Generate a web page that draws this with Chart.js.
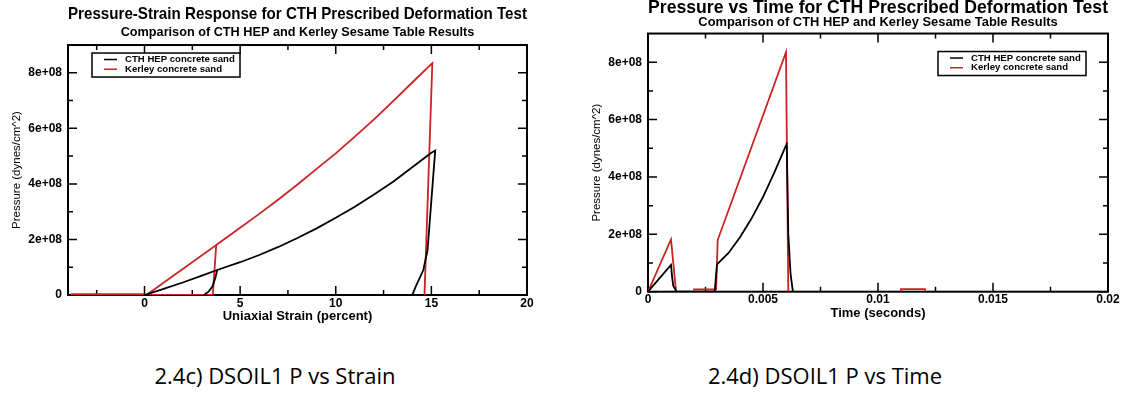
<!DOCTYPE html>
<html>
<head>
<meta charset="utf-8">
<script src="https://cdn.jsdelivr.net/npm/chart.js@4.4.1/dist/chart.umd.min.js"></script>
<style>
  html, body { margin: 0; padding: 0; background: #fff; overflow: hidden; }
  body { width: 1136px; height: 402px; position: relative; }
  canvas { position: absolute; }
  #strainChart { left: 0; top: 0; }
  #timeChart { left: 570px; top: -8px; }
  .caption {
    position: absolute; top: 360px; width: 400px; text-align: center;
    font-family: "Liberation Sans Narrow", "Open Sans", sans-serif; font-size: 22px; color: #000;
  }
</style>
</head>
<body>
<canvas id="strainChart" width="560" height="340"></canvas>
<canvas id="timeChart" width="566" height="340"></canvas>
<div class="caption" style="left: 75px;">2.4c) DSOIL1 P vs Strain</div>
<div class="caption" style="left: 625px;">2.4d) DSOIL1 P vs Time</div>
<script>
'use strict';

// series names
const seriesNames = ['CTH HEP concrete sand', 'Kerley concrete sand'];

// tick values and labels
const strainTicks = [0, 5, 10, 15, 20];
const timeTicks = [0, 0.005, 0.01, 0.015, 0.02];
const timeTickLabels = ['0', '0.005', '0.01', '0.015', '0.02'];
const pressureTicks = [0, 2e8, 4e8, 6e8, 8e8];
const pressureTickLabels = ['0', '2e+08', '4e+08', '6e+08', '8e+08'];

// pressure vs strain (percent), pressure in dynes/cm^2; null breaks the line
const hepStrain = [0, 1, 2, 3, 3.8, 5, 6, 7, 8, 9, 10, 11, 12, 13, 14, 15, 15.2, 14.8, 14.58, 14.18, 14.0,
  null, 3.8, 3.7, 3.55, 3.35, 3.1];
const hepStrainP = [0, 0.22e8, 0.45e8, 0.7e8, 0.9e8, 1.18e8, 1.44e8, 1.73e8, 2.05e8, 2.4e8, 2.78e8, 3.18e8,
  3.62e8, 4.08e8, 4.6e8, 5.12e8, 5.2e8, 1.62e8, 0.9e8, 0.3e8, 0,
  null, 0.9e8, 0.6e8, 0.3e8, 0.12e8, 0];
const kerleyStrain = [-3.85, 0, null, 0.1, 3.75, 3.57, 0.1, null, 3.57, 3.75, 5, 6, 7, 8, 9, 10, 11, 12, 13, 14,
  15.05, 14.64];
const kerleyStrainP = [0.03e8, 0.03e8, null, 0, 1.8e8, 0, 0, null, 0, 1.8e8, 2.42e8, 2.92e8, 3.44e8, 3.98e8,
  4.54e8, 5.1e8, 5.7e8, 6.32e8, 6.98e8, 7.65e8, 8.35e8, 0];

// pressure vs time (seconds)
const hepTime = [0, 0.001, 0.00105, 0.0011, 0.00125, 0.0029, 0.003, 0.0035, 0.004, 0.0045, 0.005, 0.0055,
  0.006, 0.00603, 0.0061, 0.0062, 0.0063];
const hepTimeP = [0, 0.93e8, 0.5e8, 0.2e8, 0, 0, 0.95e8, 1.35e8, 1.9e8, 2.55e8, 3.3e8, 4.17e8,
  5.1e8, 5.2e8, 2.0e8, 0.6e8, 0];
const kerleyTime = [0, 0.001, 0.00122, null, 0.00196, 0.00296, 0.00303, 0.006, 0.0061, null,
  0.011, 0.011, 0.01204, 0.01204];
const kerleyTimeP = [0, 1.82e8, 0, null, 0.08e8, 0.08e8, 1.8e8, 8.35e8, 0, null,
  0, 0.09e8, 0.09e8, 0];

const RED = '#cc2222';
const FONT = '"Liberation Sans", Arial, Helvetica, sans-serif';

function toPoints(xs, ys) {
  return xs.map((x, i) => ({ x: x, y: ys[i] }));
}

function minorValues(scale, majors) {
  const step = majors[1] - majors[0];
  const out = [];
  let v = majors[0] - step / 2;
  while (v - step > scale.min) v -= step;
  for (; v < scale.max; v += step) {
    if (v > scale.min) out.push(v);
  }
  return out;
}

// frame box with inward ticks on all four sides, plus the boxed legend
const framePlugin = {
  id: 'frame',
  beforeDatasetsDraw(chart) {
    const { ctx, chartArea: a, scales } = chart;
    const x = scales.x, y = scales.y;
    ctx.save();
    ctx.strokeStyle = '#000';
    ctx.lineWidth = 1.5;
    const xMaj = x.ticks.map(t => t.value);
    const yMaj = y.ticks.map(t => t.value);
    const drawX = (vals, len) => vals.forEach(v => {
      const p = x.getPixelForValue(v);
      ctx.beginPath();
      ctx.moveTo(p, a.bottom); ctx.lineTo(p, a.bottom - len);
      ctx.moveTo(p, a.top); ctx.lineTo(p, a.top + len);
      ctx.stroke();
    });
    const drawY = (vals, len) => vals.forEach(v => {
      const p = y.getPixelForValue(v);
      ctx.beginPath();
      ctx.moveTo(a.left, p); ctx.lineTo(a.left + len, p);
      ctx.moveTo(a.right, p); ctx.lineTo(a.right - len, p);
      ctx.stroke();
    });
    drawX(xMaj, 9);
    drawX(minorValues(x, xMaj), 5);
    drawY(yMaj, 9);
    drawY(minorValues(y, yMaj), 5);
    ctx.lineWidth = 2;
    ctx.strokeRect(a.left, a.top, a.right - a.left, a.bottom - a.top);
    ctx.restore();
  },
  afterDatasetsDraw(chart, args, opts) {
    const { ctx, chartArea: a } = chart;
    const bx = a.left + opts.dx, by = a.top + opts.dy;
    ctx.save();
    ctx.fillStyle = '#fff';
    ctx.fillRect(bx, by, 148, 24);
    ctx.strokeStyle = '#000';
    ctx.lineWidth = 1.5;
    ctx.strokeRect(bx, by, 148, 24);
    ctx.font = 'bold 9.6px ' + FONT;
    ctx.textBaseline = 'middle';
    chart.data.datasets.forEach((ds, i) => {
      const ry = by + 6.5 + i * 9.7;
      ctx.strokeStyle = ds.borderColor;
      ctx.lineWidth = 1.5;
      ctx.beginPath();
      ctx.moveTo(bx + 12, ry); ctx.lineTo(bx + 25, ry);
      ctx.stroke();
      ctx.fillStyle = '#000';
      ctx.fillText(ds.label, bx + 33, ry);
    });
    ctx.restore();
  }
};

function makeChart(id, cfg) {
  const tickFont = { family: FONT, size: 12, weight: 'bold' };
  return new Chart(document.getElementById(id), {
    type: 'scatter',
    data: {
      datasets: [
        { label: seriesNames[0], data: cfg.hep, borderColor: '#000', backgroundColor: '#000' },
        { label: seriesNames[1], data: cfg.kerley, borderColor: RED, backgroundColor: RED }
      ].map(d => Object.assign(d, { showLine: true, pointRadius: 0, borderWidth: 1.8, spanGaps: false }))
    },
    options: {
      responsive: false,
      animation: false,
      layout: { padding: cfg.padding },
      scales: {
        x: {
          type: 'linear', min: cfg.xMin, max: cfg.xMax,
          grid: { display: false, drawTicks: false },
          border: { display: false },
          afterBuildTicks: s => { s.ticks = cfg.xTicks.map(v => ({ value: v })); },
          afterFit: s => { s.height = cfg.xHeight; },
          ticks: {
            padding: 1, color: '#000', font: tickFont, maxRotation: 0,
            callback: (v, i) => cfg.xLabels[i]
          },
          title: {
            display: true, text: cfg.xTitle, color: '#000', padding: { top: 0, bottom: 0 },
            font: { family: FONT, size: 13, weight: 'bold' }
          }
        },
        y: {
          type: 'linear', min: 0, max: 9e8,
          grid: { display: false, drawTicks: false },
          border: { display: false },
          afterBuildTicks: s => { s.ticks = pressureTicks.map(v => ({ value: v })); },
          afterFit: s => { s.width = cfg.yWidth; },
          ticks: {
            padding: 6, color: '#000', font: tickFont,
            callback: (v, i) => pressureTickLabels[i]
          },
          title: {
            display: true, text: 'Pressure (dynes/cm^2)', color: '#000',
            padding: { top: cfg.yTitlePad, bottom: 0 },
            font: { family: FONT, size: 11.5 }
          }
        }
      },
      plugins: {
        legend: { display: false },
        tooltip: { enabled: false },
        title: {
          display: true, text: cfg.title, color: '#000', fullSize: false,
          padding: { top: cfg.titlePad, bottom: 0 },
          font: { family: FONT, size: cfg.titleSize, weight: 'bold', lineHeight: cfg.titleLH }
        },
        subtitle: {
          display: true, text: 'Comparison of CTH HEP and Kerley Sesame Table Results', color: '#000',
          fullSize: false, padding: { top: cfg.subPadTop, bottom: cfg.subPadBottom },
          font: { family: FONT, size: cfg.subSize, weight: 'bold', lineHeight: 1.2 }
        },
        frame: cfg.legendPos
      }
    },
    plugins: [framePlugin]
  });
}

makeChart('strainChart', {
  hep: toPoints(hepStrain, hepStrainP),
  kerley: toPoints(kerleyStrain, kerleyStrainP),
  xMin: -4, xMax: 20, xTicks: strainTicks, xLabels: strainTicks.map(String),
  xTitle: 'Uniaxial Strain (percent)', xHeight: 29,
  title: 'Pressure-Strain Response for CTH Prescribed Deformation Test',
  titleSize: 16.4, titleLH: 1.2, titlePad: 4.2, subSize: 12.7, subPadTop: 0.5, subPadBottom: 5.4,
  padding: { left: 0, right: 33, top: 0, bottom: 16 },
  yWidth: 68, yTitlePad: 10,
  legendPos: { dx: 24, dy: 8 }
});

makeChart('timeChart', {
  hep: toPoints(hepTime, hepTimeP),
  kerley: toPoints(kerleyTime, kerleyTimeP),
  xMin: 0, xMax: 0.02, xTicks: timeTicks, xLabels: timeTickLabels,
  xTitle: 'Time (seconds)', xHeight: 30,
  title: 'Pressure vs Time for CTH Prescribed Deformation Test',
  titleSize: 19, titleLH: 0.75, titlePad: 8.5, subSize: 12.9, subPadTop: 0, subPadBottom: 3.3,
  padding: { left: 0, right: 28, top: 0, bottom: 10.3 },
  yWidth: 78, yTitlePad: 19.7,
  legendPos: { dx: 290, dy: 18 }
});
</script>
</body>
</html>
